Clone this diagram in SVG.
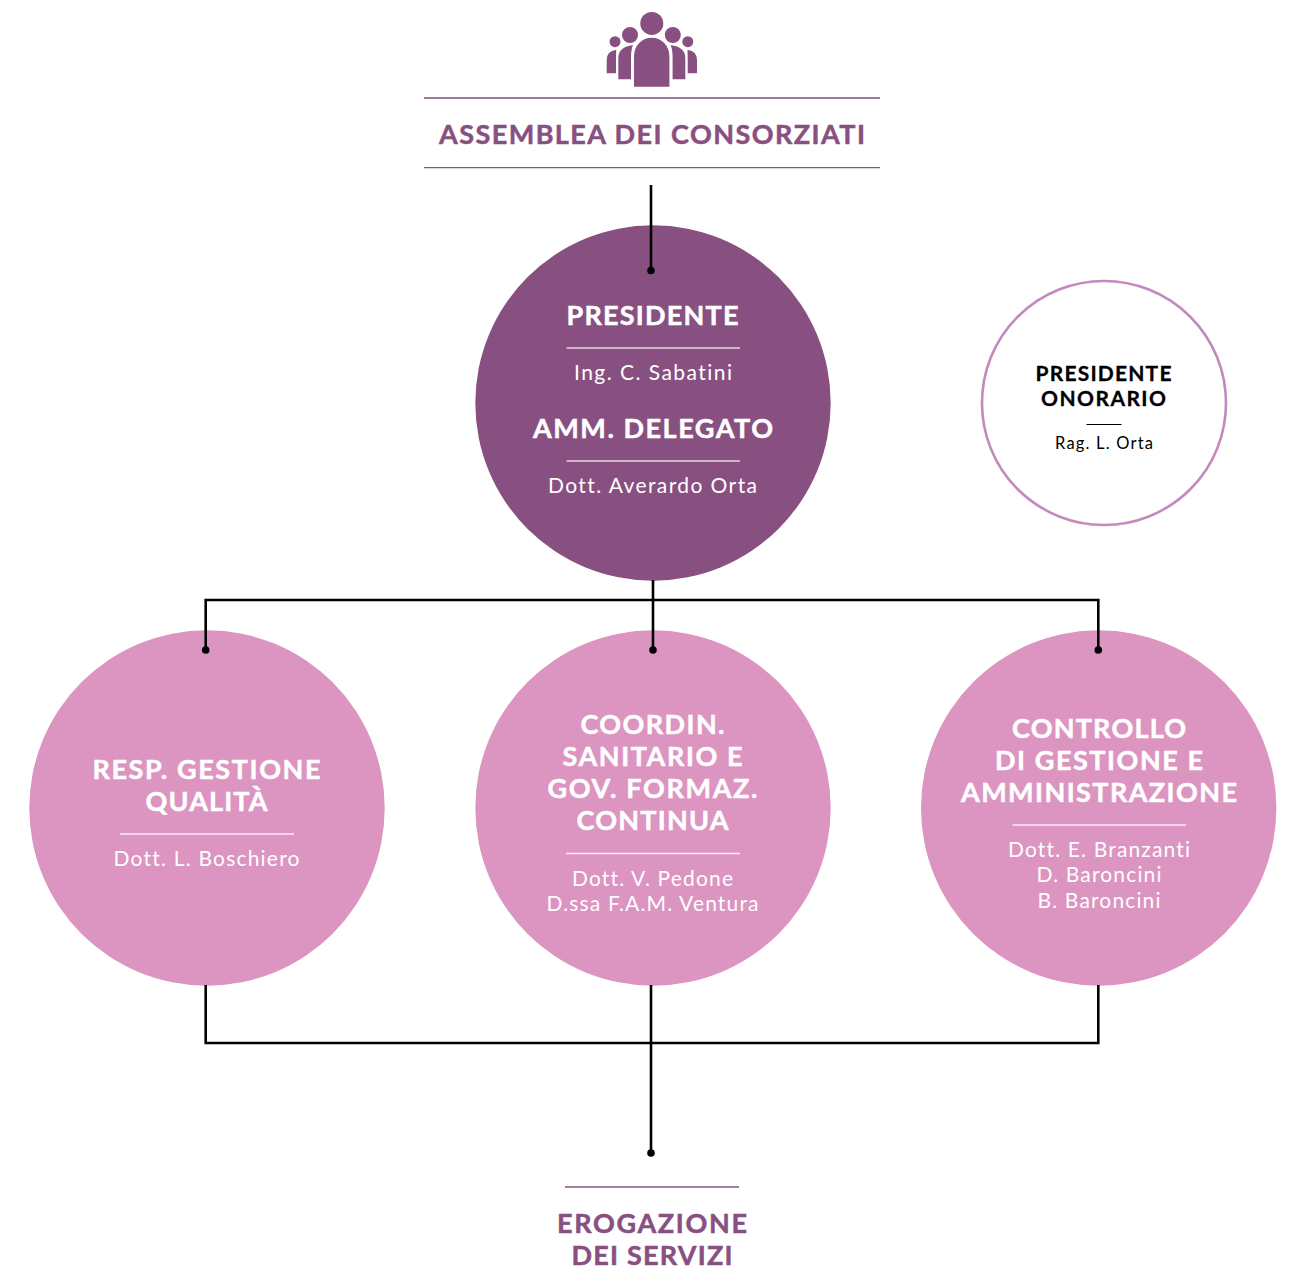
<svg xmlns="http://www.w3.org/2000/svg" width="1294" height="1282" viewBox="0 0 1294 1282">
<style>
text{font-family:"Lato","Liberation Sans",sans-serif;text-anchor:middle;font-variant-ligatures:none}
.h{font-weight:700;font-size:27px;fill:#fff;stroke:#fff;stroke-width:.5px}
.p{font-size:21px;fill:#fff;font-weight:400}
.d{fill:#885080}
.pk{fill:#dc94c0}
.t{fill:#885080;stroke:#885080;stroke-width:.5px;font-weight:700;font-size:27px}
.b{font-weight:700;font-size:21px;fill:#000;stroke:#000;stroke-width:.3px}
.c{fill:none;stroke:#000;stroke-width:2.6}
</style>
<rect width="1294" height="1282" fill="#fff"/>
<g id="assemblea">
<g class="d">
<circle cx="651.800" cy="23.400" r="11.500"/>
<circle cx="630" cy="35" r="8"/><circle cx="672.800" cy="35" r="8"/>
<circle cx="615" cy="41.700" r="5.500"/><circle cx="687.800" cy="41.700" r="5.500"/>
<path d="M606.700 73.300V60q0-9 9.500-10.300Q616 55 616 60V73.300Z"/>
<path d="M697 73.300V60q0-9-9.500-10.300Q687.700 55 687.700 60V73.300Z"/>
<path d="M618.300 79.300V58q0-11 14.700-13Q631 49 631 58V79.300Z"/>
<path d="M685.300 79.300V58q0-11-14.700-13Q672.600 49 672.600 58V79.300Z"/>
<path d="M634 86.700V56a17.700 18.300 0 0 1 35.400 0V86.700Z"/>
</g>
<path d="M424 98H880M424 167.700H880" stroke="#885080" stroke-width="1.300"/>
<text class="t" x="652" y="144" textLength="426" lengthAdjust="spacing">ASSEMBLEA DEI CONSORZIATI</text>
</g>
<g id="presidente">
<circle class="d" cx="653" cy="403" r="177.700"/>
<text class="h" x="652.500" y="325" textLength="172" lengthAdjust="spacing">PRESIDENTE</text>
<path d="M566.500 348H740M566.500 461H740" stroke="#e6d4e2" stroke-width="1.300"/>
<text class="p" x="653" y="380" textLength="158" lengthAdjust="spacing">Ing. C. Sabatini</text>
<text class="h" x="653" y="438" textLength="240" lengthAdjust="spacing">AMM. DELEGATO</text>
<text class="p" x="652.500" y="493" textLength="209" lengthAdjust="spacing">Dott. Averardo Orta</text>
</g>
<g id="presidente-onorario">
<circle cx="1104" cy="403" r="122" fill="#fff" stroke="#c48abc" stroke-width="2.600"/>
<text class="b" x="1103.500" y="381" textLength="136" lengthAdjust="spacing">PRESIDENTE</text>
<text class="b" x="1103.500" y="406" textLength="125" lengthAdjust="spacing">ONORARIO</text>
<path d="M1086.500 424.500H1121.500" stroke="#000" stroke-width="1"/>
<text x="1104" y="449" font-size="16.500" fill="#000" textLength="98" lengthAdjust="spacing">Rag. L. Orta</text>
</g>
<g id="qualita">
<circle class="pk" cx="207" cy="808" r="177.700"/>
<text class="h" x="206.500" y="779" textLength="228" lengthAdjust="spacing">RESP. GESTIONE</text>
<text class="h" x="206.500" y="811" textLength="122" lengthAdjust="spacing">QUALITÀ</text>
<path d="M120 834H294" stroke="#fbeef6" stroke-width="1.300"/>
<text class="p" x="206.500" y="866" textLength="186" lengthAdjust="spacing">Dott. L. Boschiero</text>
</g>
<g id="coordin">
<circle class="pk" cx="653" cy="808" r="177.700"/>
<text class="h" x="652.500" y="734" textLength="144" lengthAdjust="spacing">COORDIN.</text>
<text class="h" x="652.500" y="766" textLength="180" lengthAdjust="spacing">SANITARIO E</text>
<text class="h" x="652.500" y="798" textLength="210" lengthAdjust="spacing">GOV. FORMAZ.</text>
<text class="h" x="652.500" y="830" textLength="152" lengthAdjust="spacing">CONTINUA</text>
<path d="M566 853.500H740" stroke="#fbeef6" stroke-width="1.300"/>
<text class="p" x="652.500" y="886" textLength="161" lengthAdjust="spacing">Dott. V. Pedone</text>
<text class="p" x="652.500" y="911" textLength="212" lengthAdjust="spacing">D.ssa F.A.M. Ventura</text>
</g>
<g id="controllo">
<circle class="pk" cx="1098.700" cy="808" r="177.700"/>
<text class="h" x="1099" y="738" textLength="174" lengthAdjust="spacing">CONTROLLO</text>
<text class="h" x="1099" y="770" textLength="208" lengthAdjust="spacing">DI GESTIONE E</text>
<text class="h" x="1099" y="802" textLength="276" lengthAdjust="spacing">AMMINISTRAZIONE</text>
<path d="M1012.500 825H1186" stroke="#fbeef6" stroke-width="1.300"/>
<text class="p" x="1099" y="857" textLength="182" lengthAdjust="spacing">Dott. E. Branzanti</text>
<text class="p" x="1099" y="882" textLength="125" lengthAdjust="spacing">D. Baroncini</text>
<text class="p" x="1099" y="908" textLength="123" lengthAdjust="spacing">B. Baroncini</text>
</g>
<g id="erogazione">
<path d="M565 1187H739" stroke="#885080" stroke-width="1.300"/>
<text class="t" x="652" y="1233" textLength="190" lengthAdjust="spacing">EROGAZIONE</text>
<text class="t" x="652" y="1265" textLength="161" lengthAdjust="spacing">DEI SERVIZI</text>
</g>
<g id="connectors">
<path class="c" d="M651 185V270"/>
<path class="c" d="M653 580V650M205.700 650V600H1098.300V650"/>
<path class="c" d="M205.700 985V1043H1098.300V985M651 985V1153"/>
<g fill="#000">
<circle cx="651" cy="270.500" r="3.800"/>
<circle cx="205.700" cy="650" r="3.800"/>
<circle cx="653" cy="650" r="3.800"/>
<circle cx="1098.300" cy="650" r="3.800"/>
<circle cx="651" cy="1153" r="3.800"/>
</g>
</g>
</svg>
